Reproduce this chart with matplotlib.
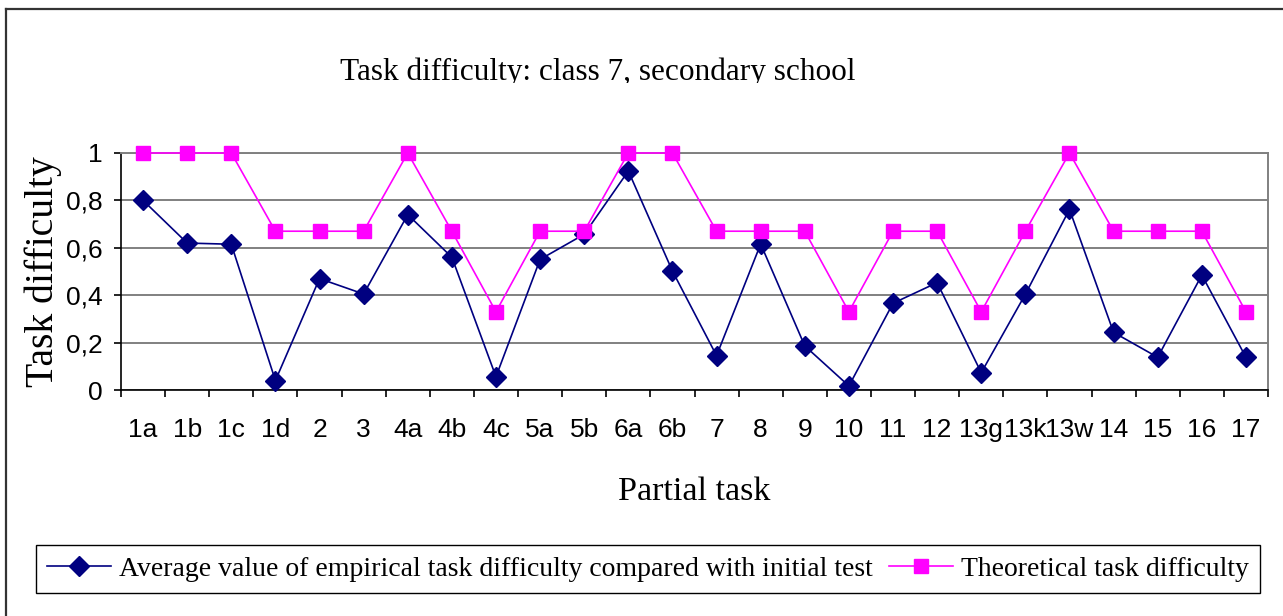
import matplotlib
matplotlib.use("Agg")
import matplotlib.pyplot as plt
from matplotlib.lines import Line2D
from matplotlib.transforms import Bbox, TransformedBbox

tasks = ["1a", "1b", "1c", "1d", "2", "3", "4a", "4b", "4c", "5a", "5b", "6a", "6b",
         "7", "8", "9", "10", "11", "12", "13g", "13k", "13w", "14", "15", "16", "17"]
empirical = [0.80, 0.62, 0.615, 0.04, 0.47, 0.405, 0.74, 0.56, 0.056, 0.551, 0.657, 0.924, 0.502,
             0.145, 0.616, 0.186, 0.017, 0.366, 0.453, 0.073, 0.404, 0.762, 0.243, 0.138, 0.485, 0.138]
theoretical = [1, 1, 1, 0.67, 0.67, 0.67, 1, 0.67, 0.33, 0.67, 0.67, 1, 1,
               0.67, 0.67, 0.67, 0.33, 0.67, 0.67, 0.33, 0.67, 1, 0.67, 0.67, 0.67, 0.33]
yticks = [0, 0.2, 0.4, 0.6, 0.8, 1]
ytick_labels = ["0", "0,2", "0,4", "0,6", "0,8", "1"]

W, H = 1283, 616
fig = plt.figure(figsize=(W / 100, H / 100), dpi=100)
ax = fig.add_axes([121 / W, 1 - 390 / H, (1268 - 121) / W, (390 - 153) / H])

x = list(range(len(tasks)))
ax.plot(x, empirical, color="#000080", lw=1.2, marker="D", ms=10, clip_on=False, zorder=3,
        label="Average value of empirical task difficulty compared with initial test")
ax.plot(x, theoretical, color="#ff00ff", lw=1.2, marker="s", ms=10, clip_on=False, zorder=3,
        label="Theoretical task difficulty")

ax.set_xlim(-0.5, len(tasks) - 0.5)
ax.set_ylim(0, 1)
ax.set_yticks(yticks)
ax.set_yticklabels(ytick_labels, fontfamily="Liberation Sans", fontsize=19)
ax.set_xticks(x)
ax.set_xticklabels(tasks, fontfamily="Liberation Sans", fontsize=19)
ax.set_xticks([i - 0.5 for i in range(len(tasks) + 1)], minor=True)
ax.tick_params(axis="x", which="major", length=0, pad=20)
ax.tick_params(axis="x", which="minor", length=5, width=1.2, direction="out", color="black")
ax.tick_params(axis="y", length=5, width=1.2, direction="out", pad=8, color="black")

ax.grid(axis="y", color="#808080", lw=1.4)
ax.set_axisbelow(True)
for side in ["top", "right"]:
    ax.spines[side].set_color("#808080")
    ax.spines[side].set_linewidth(1.4)
for side in ["left", "bottom"]:
    ax.spines[side].set_color("black")
    ax.spines[side].set_linewidth(1.2)

ax.set_xlabel("Partial task", fontfamily="Liberation Serif", fontsize=24.5, labelpad=25)
ax.set_ylabel("Task difficulty", fontfamily="Liberation Serif", fontsize=28.5, labelpad=3)

# title sits just above its clip line, so the descenders are cut off
title = fig.text(0.5 * (353 + 842) / W, 1 - 80 / H, "Task difficulty: class 7, secondary school",
                 ha="center", va="baseline", fontfamily="Liberation Serif", fontsize=22.5)
title.set_clip_box(TransformedBbox(Bbox([[0, 1 - 83 / H], [1, 1]]), fig.transFigure))
title.set_clip_on(True)

leg = fig.legend(loc="center", bbox_to_anchor=(0.5 * (40 + 1256) / W, 1 - 569 / H), ncol=2,
                 frameon=True, fancybox=False, edgecolor="black", framealpha=1,
                 prop={"family": "Liberation Serif", "size": 20}, handlelength=2.3,
                 columnspacing=0.6, handletextpad=0.3, borderpad=0.4)
leg.get_frame().set_linewidth(1.0)

# outer chart border (left and top edges visible)
fig.add_artist(Line2D([6 / W, 6 / W], [0, 1 - 9 / H], transform=fig.transFigure, color="#333333", lw=1.6))
fig.add_artist(Line2D([6 / W, 1], [1 - 9 / H, 1 - 9 / H], transform=fig.transFigure, color="#333333", lw=1.6))

fig.savefig("out.png", dpi=100)
